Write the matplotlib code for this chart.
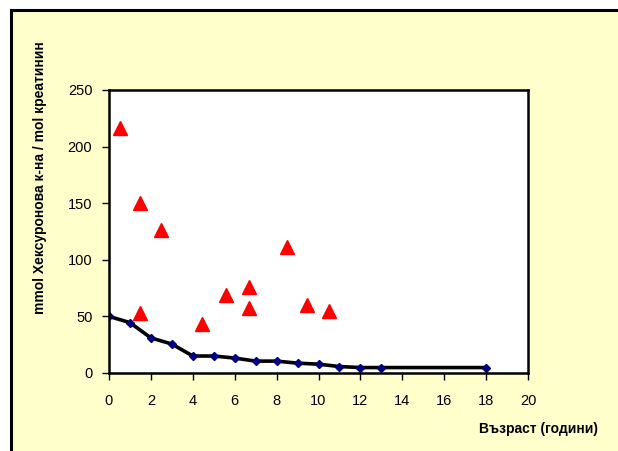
import matplotlib.pyplot as plt
from matplotlib.patches import Rectangle

plt.rcParams['font.family'] = ['Liberation Sans Narrow', 'Liberation Sans', 'DejaVu Sans']

# reference curve (age in years vs. excretion)
ref_age = [0, 1, 2, 3, 4, 5, 6, 7, 8, 9, 10, 11, 12, 13, 18]
ref_val = [50, 44.5, 31, 25.6, 15, 15, 13.2, 10.5, 10.5, 8.7, 7.8, 5.7, 4.8, 4.8, 4.8]

# patient measurements
pat_age = [0.52, 1.48, 1.48, 2.5, 4.46, 5.57, 6.68, 6.68, 8.49, 9.45, 10.48]
pat_val = [216, 150, 53, 126, 43, 69, 76, 57, 111, 60, 55]

x_ticks = list(range(0, 21, 2))
y_ticks = [0, 50, 100, 150, 200, 250]

W, H = 618, 451
fig = plt.figure(figsize=(W / 100, H / 100), dpi=100)
fig.patch.set_facecolor('white')

# yellow chart area with black frame
frame = Rectangle((11 / W, -0.05), 1.1, 1 - 10 / H + 0.05,
                  transform=fig.transFigure, facecolor='#FFFFCC',
                  edgecolor='black', linewidth=2.2, zorder=-10)
fig.add_artist(frame)

ax = fig.add_axes([109 / W, 78 / H, 419 / W, 283 / H])
ax.set_facecolor('white')

ax.plot(ref_age, ref_val, color='black', linewidth=2.6, zorder=2,
        marker='D', markersize=4, markerfacecolor='#000080', markeredgecolor='#000080')
ax.plot(pat_age, pat_val, linestyle='none', marker='^', markersize=10,
        color='#FF0000', zorder=3)

ax.set_xlim(0, 20)
ax.set_ylim(0, 250)
ax.set_xticks(x_ticks)
ax.set_yticks(y_ticks)
ax.tick_params(direction='out', length=5, width=1, labelsize=10.5, pad=7, colors='black')
ax.tick_params(axis='x', pad=10)
for s in ax.spines.values():
    s.set_linewidth(1.8)

fig.text(40 / W, 1 - 178 / H, 'mmol Хексуронова к-на / mol креатинин', rotation=90,
         ha='center', va='center', fontsize=10, fontweight='bold')
fig.text(598 / W, 1 - 429 / H, 'Възраст (години)', ha='right', va='center',
         fontsize=10, fontweight='bold')

fig.savefig('out.png', dpi=100)
